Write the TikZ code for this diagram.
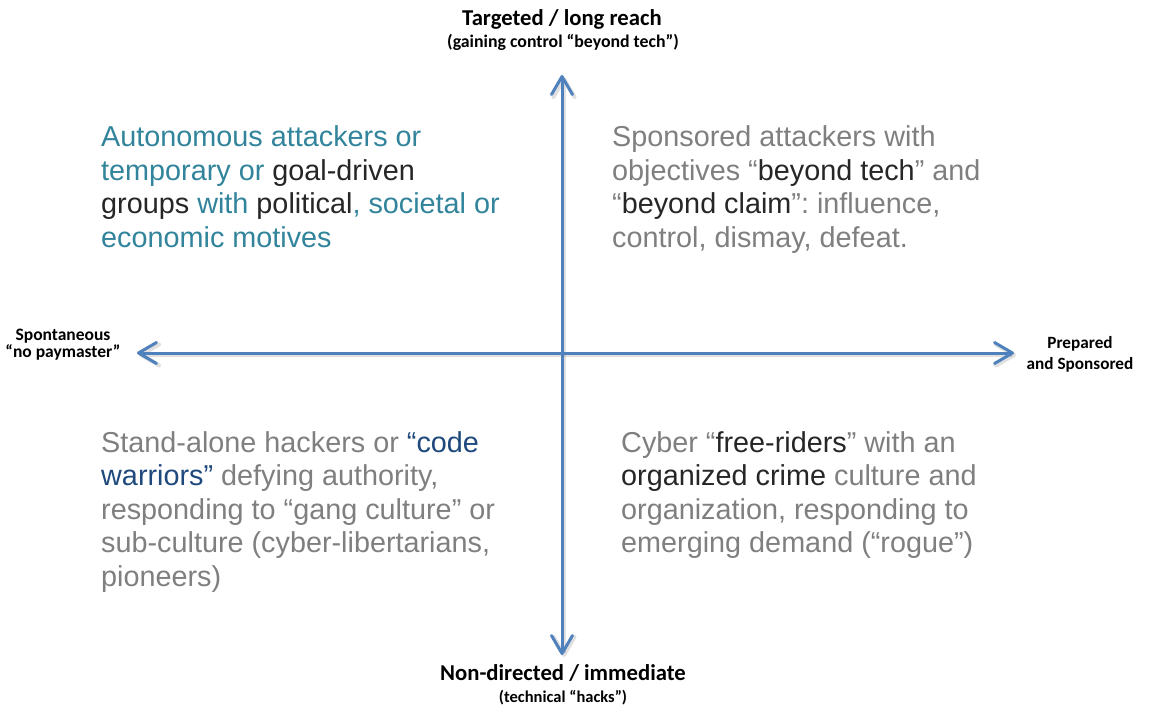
\documentclass[tikz,border=0pt]{standalone}
\usepackage{fontspec}
\setmainfont{Liberation Sans}
\newfontfamily\calfont{Carlito}
\usetikzlibrary{arrows.meta}
\frenchspacing
\definecolor{axisblue}{HTML}{4F81BD}
\definecolor{tealc}{HTML}{31849B}
\definecolor{darkc}{HTML}{262626}
\definecolor{grayc}{HTML}{7F7F7F}
\definecolor{navyc}{HTML}{1F497D}
\tikzset{
  axisline/.style={draw=axisblue, line width=3pt,
    arrows={Straight Barb[length=18pt,width=21pt,line width=3pt,round]-Straight Barb[length=18pt,width=21pt,line width=3pt,round]}},
  axisshadow/.style={draw=black, opacity=0.12, line width=4pt,
    arrows={Straight Barb[length=18pt,width=21pt,line width=4pt,round]-Straight Barb[length=18pt,width=21pt,line width=4pt,round]}},
  quadtext/.style={anchor=base west, align=left, inner sep=0pt, font=\fontsize{28.8}{33.5}\selectfont\frenchspacing},
  axtitle/.style={anchor=base, inner sep=0pt, align=center, font=\calfont\bfseries\fontsize{22.7}{24}\selectfont},
  axsub/.style={anchor=base, inner sep=0pt, align=center, font=\calfont\bfseries\fontsize{16.5}{18}\selectfont},
  sidelabel/.style={anchor=base, inner sep=0pt, align=center, font=\calfont\bfseries\fontsize{17.5}{14}\selectfont},
  sidelabelr/.style={anchor=base, inner sep=0pt, align=center, font=\calfont\bfseries\fontsize{17.2}{21}\selectfont},
}
\begin{document}
\begin{tikzpicture}[x=1pt,y=-1pt]
\useasboundingbox (0,0) rectangle (1150,708);
% axis end points
\coordinate (top) at (562,75);
\coordinate (bot) at (562,655);
\coordinate (lft) at (137,353);
\coordinate (rgt) at (1014,353);
\coordinate (tops) at (564,77);
\coordinate (bots) at (564,657);
\coordinate (lfts) at (139,355);
\coordinate (rgts) at (1016,355);
% shadows
\draw[axisshadow] (bots) -- (tops);
\draw[axisshadow] (lfts) -- (rgts);
% axes
\draw[axisline] (bot) -- (top);
\draw[axisline] (lft) -- (rgt);
% axis labels
\node[axtitle] (ttitle) at (562,26) {Targeted / long reach};
\node[axsub, font=\calfont\bfseries\fontsize{17.8}{18}\selectfont] (tsub) at (563,48) {(gaining control “beyond tech”)};
\node[axtitle] (btitle) at (563,680) {Non-directed / immediate};
\node[axsub] (bsub) at (563,702) {(technical “hacks”)};
\node[sidelabel] (llabel) at (63,357) {Spontaneous\\“no paymaster”};
\node[sidelabelr] (rlabel) at (1080,369) {Prepared\\and Sponsored};
% quadrant texts (anchor = baseline of the last line)
\node[quadtext] (q1) at (101,247.5) {\color{tealc}Autonomous attackers or\\
\color{tealc}temporary or \color{darkc}goal-driven\\
\color{darkc}groups \color{tealc}with \color{darkc}political\color{tealc}, societal or\\
\color{tealc}economic motives};
\node[quadtext] (q2) at (612,247.5) {\color{grayc}Sponsored attackers with\\
\color{grayc}objectives “\color{darkc}beyond tech\color{grayc}” and\\
\color{grayc}“\color{darkc}beyond claim\color{grayc}”: influence,\\
\color{grayc}control, dismay, defeat.};
\node[quadtext] (q3) at (101,586) {\color{grayc}Stand-alone hackers or \color{navyc}“code\\
\color{navyc}warriors” \color{grayc}defying authority,\\
\color{grayc}responding to “gang culture” or\\
\color{grayc}sub-culture (cyber-libertarians,\\
\color{grayc}pioneers)};
\node[quadtext] (q4) at (621,552.5) {\color{grayc}Cyber “\color{darkc}free-riders\color{grayc}” with an\\
\color{darkc}organized crime \color{grayc}culture and\\
\color{grayc}organization, responding to\\
\color{grayc}emerging demand (“rogue”)};
\end{tikzpicture}
\end{document}
